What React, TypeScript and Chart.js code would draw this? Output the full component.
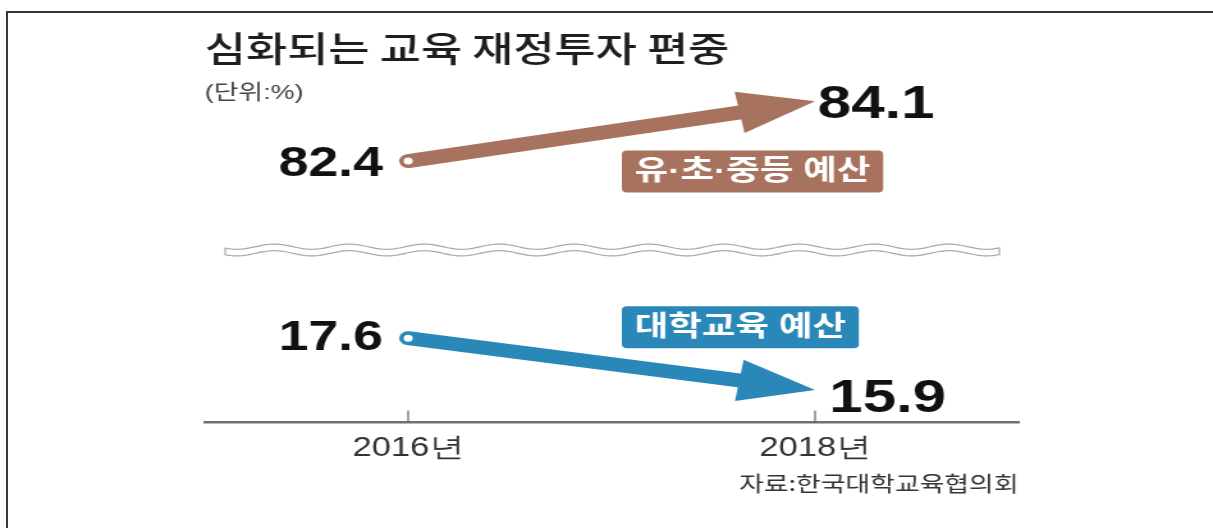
import React, { useEffect, useRef } from 'react';
import { Chart, registerables } from 'chart.js';

Chart.register(...registerables);

// ---- data ----
const years = [2016, 2018];
const yearSuffix = '년';
const k12Values = [82.4, 84.1];
const univValues = [17.6, 15.9];
const seriesLabels = ['유·초·중등 예산', '대학교육 예산'];
const seriesColors = ['#A8735E', '#2A88B8'];
const titleText = '심화되는 교육 재정투자 편중';
const unitText = '(단위:%)';
const sourceText = '자료:한국대학교육협의회';

// ---- layout ----
const CW = 948;
const CH = 528;
const SX = 1213 / CW;
const KR = '"Noto Sans CJK KR", "Noto Sans", sans-serif';
const MIX = '"Liberation Sans", "Noto Sans CJK KR", sans-serif';
const NUM = '"Liberation Sans", Arial, sans-serif';

const arrowPlugin = {
  id: 'arrowHeads',
  beforeDatasetDraw(chart: any, args: any) {
    const pts = args.meta.data;
    if (!pts || pts.length < 2) return;
    const a = pts[0];
    const b = pts[pts.length - 1];
    const dx = b.x - a.x;
    const dy = b.y - a.y;
    const len = Math.hypot(dx, dy);
    const ux = dx / len, uy = dy / len, nx = -uy, ny = ux;
    const d = 26, B = 4000;
    const cx = b.x - ux * d, cy = b.y - uy * d;
    const ctx = chart.ctx;
    ctx.save();
    ctx.beginPath();
    ctx.moveTo(cx + nx * B, cy + ny * B);
    ctx.lineTo(cx + nx * B - ux * B, cy + ny * B - uy * B);
    ctx.lineTo(cx - nx * B - ux * B, cy - ny * B - uy * B);
    ctx.lineTo(cx - nx * B, cy - ny * B);
    ctx.closePath();
    ctx.clip();
  },
  afterDatasetDraw(chart: any, args: any) {
    const pts = args.meta.data;
    if (!pts || pts.length < 2) return;
    const ctx = chart.ctx;
    ctx.restore();
    const a = pts[0];
    const b = pts[pts.length - 1];
    const dx = b.x - a.x;
    const dy = b.y - a.y;
    const len = Math.hypot(dx, dy);
    const ux = dx / len, uy = dy / len, nx = -uy, ny = ux;
    const L = 60, HW = 21;
    const bx = b.x - ux * L, by = b.y - uy * L;
    const ds = chart.data.datasets[args.index];
    ctx.save();
    ctx.fillStyle = ds.borderColor;
    ctx.beginPath();
    ctx.moveTo(b.x, b.y);
    ctx.lineTo(bx + nx * HW, by + ny * HW);
    ctx.lineTo(bx - nx * HW, by - ny * HW);
    ctx.closePath();
    ctx.fill();
    ctx.restore();
  },
};

const breakPlugin = {
  id: 'axisBreak',
  beforeDatasetsDraw(chart: any) {
    const ca = chart.chartArea;
    const ctx = chart.ctx;
    const x0 = ca.left + 16;
    const x1 = ca.right - 15;
    const yc = 250;
    const P = 58.6, A = 2.6, g = 3.3;
    const wave = (x: number) => A * Math.sin((2 * Math.PI * (x - x0)) / P + 0.6);
    ctx.save();
    ctx.strokeStyle = '#a8a8a8';
    ctx.lineWidth = 1.2;
    ctx.fillStyle = '#ffffff';
    ctx.beginPath();
    for (let x = x0; x <= x1; x += 1) {
      const y = yc - g + wave(x);
      if (x === x0) ctx.moveTo(x, y); else ctx.lineTo(x, y);
    }
    for (let x = x1; x >= x0; x -= 1) {
      ctx.lineTo(x, yc + g + wave(x));
    }
    ctx.closePath();
    ctx.fill();
    ctx.stroke();
    ctx.restore();
  },
};

const labelsPlugin = {
  id: 'valueLabels',
  afterDatasetsDraw(chart: any, _args: any, opts: any) {
    const ctx = chart.ctx;
    const xs = chart.scales.x;
    chart.data.datasets.forEach((ds: any, i: number) => {
      const meta = chart.getDatasetMeta(i);
      const off = opts.offsets[i];
      ctx.save();
      ctx.fillStyle = '#111111';
      ctx.textBaseline = 'alphabetic';
      meta.data.forEach((pt: any, j: number) => {
        const first = j === 0;
        const v = ds.data[j].y;
        ctx.font = `bold ${first ? 42 : 47}px ${NUM}`;
        ctx.textAlign = first ? 'right' : 'left';
        const o = first ? off.start : off.end;
        ctx.fillText(v.toFixed(1), pt.x + o[0], pt.y + o[1]);
      });
      // series tag box
      const p0 = meta.data[0];
      ctx.font = `bold 28.5px ${MIX}`;
      const tw = ctx.measureText(ds.label).width;
      const w = tw + 20;
      const h = 42;
      const left = xs.getPixelForValue((years[0] + years[1]) / 2) + 8;
      const cy = p0.y + opts.tagDy[i];
      ctx.fillStyle = ds.borderColor;
      ctx.beginPath();
      (ctx as any).roundRect(left, cy - h / 2, w, h, 4);
      ctx.fill();
      ctx.fillStyle = '#ffffff';
      ctx.textAlign = 'center';
      ctx.textBaseline = 'middle';
      ctx.fillText(ds.label, left + w / 2, cy + 1);
      ctx.restore();
    });
  },
};

const tickMarkPlugin = {
  id: 'innerTicks',
  afterDraw(chart: any) {
    const xs = chart.scales.x;
    const ctx = chart.ctx;
    const bottom = chart.chartArea.bottom;
    ctx.save();
    ctx.strokeStyle = '#666666';
    ctx.lineWidth = 1.2;
    xs.ticks.forEach((t: any) => {
      const px = xs.getPixelForValue(t.value);
      ctx.beginPath();
      ctx.moveTo(px, bottom - 12);
      ctx.lineTo(px, bottom);
      ctx.stroke();
    });
    ctx.restore();
  },
};

export default function App() {
  const ref = useRef<HTMLCanvasElement | null>(null);

  useEffect(() => {
    document.body.style.margin = '0';
    document.body.style.overflow = 'hidden';
    const canvas = ref.current;
    if (!canvas) return;
    const mk = (vals: number[]) => years.map((yr, i) => ({ x: yr, y: vals[i] }));
    const common = {
      borderWidth: 14,
      borderCapStyle: 'round',
      pointRadius: [3.5, 0],
      pointHoverRadius: 0,
      pointBackgroundColor: '#ffffff',
      pointBorderWidth: 0,
      fill: false,
      clip: false,
    };
    const chart = new Chart(canvas, {
      type: 'line',
      data: {
        datasets: [
          {
            ...common,
            label: seriesLabels[0],
            data: mk(k12Values),
            yAxisID: 'yUp',
            borderColor: seriesColors[0],
            backgroundColor: seriesColors[0],
          },
          {
            ...common,
            label: seriesLabels[1],
            data: mk(univValues),
            yAxisID: 'y',
            borderColor: seriesColors[1],
            backgroundColor: seriesColors[1],
          },
        ],
      } as any,
      options: {
        responsive: false,
        animation: false,
        events: [],
        layout: { padding: { top: 12, left: 160, right: 152, bottom: 29 } },
        scales: {
          x: {
            type: 'linear',
            min: 2015,
            max: 2019,
            afterBuildTicks: (axis: any) => {
              axis.ticks = years.map((v) => ({ value: v }));
            },
            grid: { display: false, drawTicks: false },
            border: { display: true, color: '#707070', width: 2.5 },
            ticks: {
              autoSkip: false,
              maxRotation: 0,
              padding: 10,
              color: '#333333',
              font: { family: NUM, size: 27, lineHeight: 1.2 },
              callback: (v: any) => `${v}${yearSuffix}`,
            },
            title: {
              display: true,
              text: sourceText,
              align: 'end',
              color: '#333333',
              font: { family: KR, size: 21, lineHeight: 1.2 },
              padding: { top: -4, bottom: 3 },
            },
          },
          y: { display: false, min: 14.84, max: 25.217 },
          yUp: { display: false, position: 'left', min: 74.959, max: 83.975 },
        },
        plugins: {
          legend: { display: false },
          tooltip: { enabled: false },
          title: {
            display: true,
            text: titleText,
            align: 'start',
            color: '#1e1e1e',
            font: { family: KR, size: 35, weight: '500', lineHeight: 1.2 },
            padding: { top: 16, bottom: 0 },
          },
          subtitle: {
            display: true,
            text: unitText,
            align: 'start',
            color: '#444444',
            font: { family: MIX, size: 21, lineHeight: 1.2 },
            padding: { top: 10.5, bottom: 0 },
          },
          valueLabels: {
            offsets: [
              { start: [-19.6, 15], end: [2, 17] },
              { start: [-19.6, 12], end: [11, 21.5] },
            ],
            tagDy: [10.5, -11],
          },
        } as any,
      },
      plugins: [breakPlugin, arrowPlugin, labelsPlugin, tickMarkPlugin],
    });
    return () => chart.destroy();
  }, []);

  return (
    <div style={{ position: 'relative', width: 1213, height: 528, overflow: 'hidden', background: '#ffffff' }}>
      <div
        style={{
          position: 'absolute',
          left: 0,
          top: 0,
          width: CW,
          height: CH,
          transform: `scaleX(${SX})`,
          transformOrigin: '0 0',
        }}
      >
        <canvas ref={ref} width={CW} height={CH} style={{ display: 'block' }} />
      </div>
      <div
        style={{
          position: 'absolute',
          left: 6,
          top: 11,
          right: 0,
          bottom: 0,
          borderTop: '2px solid #383838',
          borderLeft: '2px solid #383838',
          pointerEvents: 'none',
        }}
      />
    </div>
  );
}
